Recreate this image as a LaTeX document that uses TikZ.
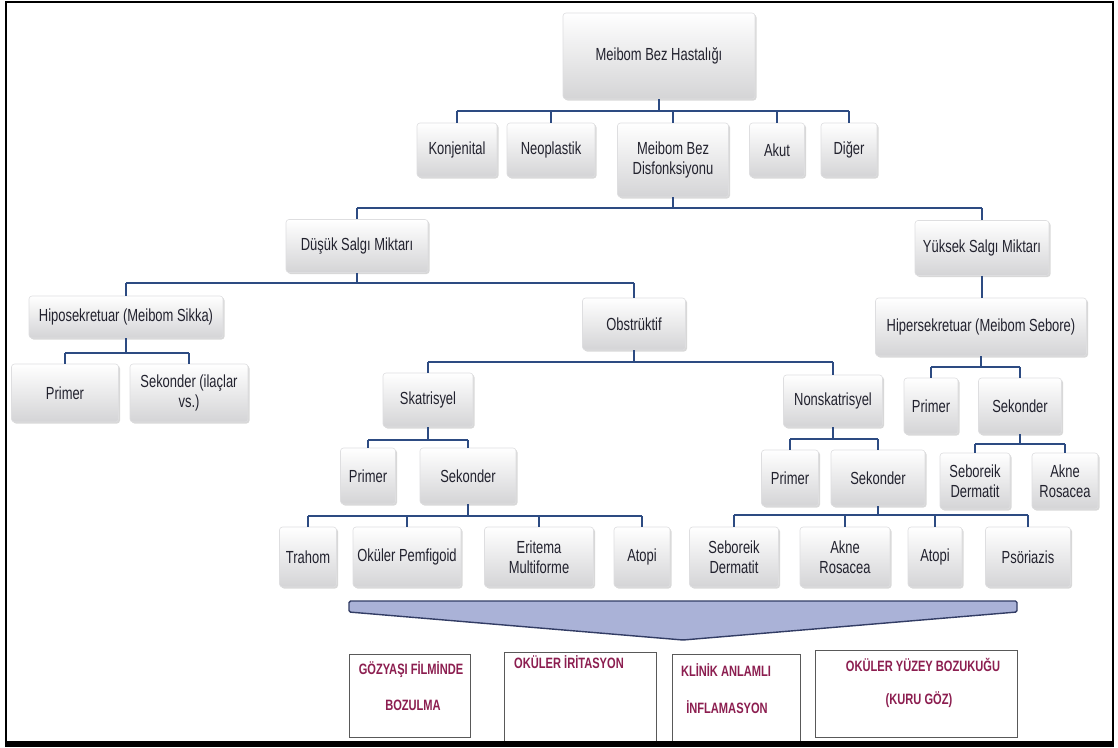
\documentclass[tikz,border=0pt]{standalone}
\usepackage{fontspec}
\setmainfont{Liberation Sans}[FakeStretch=0.74]
\usetikzlibrary{shadows}
\definecolor{connc}{RGB}{45,75,130}
\definecolor{boxbot}{RGB}{212,212,214}
\definecolor{boxedge}{RGB}{222,222,224}
\definecolor{txt}{RGB}{34,34,46}
\definecolor{maroon}{RGB}{140,30,80}
\definecolor{chevfill}{RGB}{170,178,215}
\definecolor{chevline}{RGB}{50,60,100}
\begin{document}
\begin{tikzpicture}[x=1pt,y=-1pt,
  box/.style={rounded corners=3pt, top color=white, bottom color=boxbot, draw=boxedge, line width=0.6pt,
    drop shadow={shadow xshift=1.5pt,shadow yshift=-1.5pt,opacity=0.3},
    font=\fontsize{17.5}{20.5}\selectfont, text=txt, align=center, inner sep=0pt},
  sz/.style n args={2}{minimum width=#1pt,minimum height=#2pt},
  conn/.style={draw=connc, line width=2pt},
  bbox/.style={draw=gray!70!black, line width=0.9pt, fill=white, inner sep=0pt},
  btxt/.style={font=\bfseries\fontsize{15}{17}\selectfont, text=maroon, inner sep=0pt},
  chev/.style={draw=chevline, fill=chevfill, line width=1.4pt, rounded corners=1.5pt}]
\useasboundingbox (0,0) rectangle (1118,747);
\fill[white] (0,0) rectangle (1118,747);

% bar levels
\coordinate (b1) at (0,111);
\coordinate (b2) at (0,208);
\coordinate (b3) at (0,283);
\coordinate (b4) at (0,353);
\coordinate (b5) at (0,362);
\coordinate (b6) at (0,367);
\coordinate (b7) at (0,440);
\coordinate (b8) at (0,439);
\coordinate (b9) at (0,444);
\coordinate (b10) at (0,516);
\coordinate (b11) at (0,515);

% nodes
\node[box, sz={192}{86}] (root) at (659,56) {Meibom Bez Hastalığı};

\node[box, sz={80}{54}] (konj) at (457,150) {Konjenital};
\node[box, sz={88}{54}] (neo) at (551,150) {Neoplastik};
\node[box, sz={111}{74}] (disf) at (673,160) {Meibom Bez\\Disfonksiyonu};
\node[box, sz={55}{54}] (akut) at (777,150) {Akut};
\node[box, sz={56}{54}] (diger) at (849,150) {Diğer};

\node[box, sz={142}{53}] (dusuk) at (357,246) {Düşük Salgı Miktarı};
\node[box, sz={134}{55}] (yuksek) at (982,248) {Yüksek Salgı Miktarı};

\node[box, sz={194}{42}] (hipo) at (126,317) {Hiposekretuar (Meibom Sikka)};
\node[box, sz={103}{52}] (obstr) at (634,324) {Obstrüktif};
\node[box, sz={211}{58}] (hiper) at (981,327) {Hipersekretuar (Meibom Sebore)};

\node[box, sz={107}{58}] (hprimer) at (65,393) {Primer};
\node[box, sz={118}{58}] (hsek) at (189,393) {Sekonder (ilaçlar\\vs.)};
\node[box, sz={90}{54}] (skat) at (428,400) {Skatrisyel};
\node[box, sz={99}{52}] (nonsk) at (833,401) {Nonskatrisyel};
\node[box, sz={54}{56}] (yprimer) at (931,406) {Primer};
\node[box, sz={83}{56}] (ysek) at (1020,406) {Sekonder};

\node[box, sz={55}{56}] (sprimer) at (368,476) {Primer};
\node[box, sz={96}{56}] (ssek) at (468,476) {Sekonder};
\node[box, sz={57}{56}] (nprimer) at (790,478) {Primer};
\node[box, sz={94}{56}] (nsek) at (878,478) {Sekonder};
\node[box, sz={70}{56}] (yseb) at (975,481) {Seboreik\\Dermatit};
\node[box, sz={66}{56}] (yakne) at (1065,481) {Akne\\Rosacea};

\node[box, sz={57}{60}] (trahom) at (308,557) {Trahom};
\node[box, sz={108}{60}] (pemf) at (407,557) {Oküler Pemfigoid};
\node[box, sz={109}{60}] (erit) at (539,557) {Eritema\\Multiforme};
\node[box, sz={56}{60}] (satopi) at (642,557) {Atopi};
\node[box, sz={89}{60}] (nseb) at (734,557) {Seboreik\\Dermatit};
\node[box, sz={90}{60}] (nakne) at (845,557) {Akne\\Rosacea};
\node[box, sz={54}{60}] (natopi) at (935,557) {Atopi};
\node[box, sz={85}{60}] (psor) at (1028,557) {Psöriazis};

% connectors
\draw[conn] (root.south) -- (root.south |- b1);
\draw[conn] (konj.north |- b1) -- (diger.north |- b1);
\foreach \c in {konj,neo,disf,akut,diger} \draw[conn] (\c.north |- b1) -- (\c.north);

\draw[conn] (disf.south) -- (disf.south |- b2);
\draw[conn] (dusuk.north |- b2) -- (yuksek.north |- b2);
\foreach \c in {dusuk,yuksek} \draw[conn] (\c.north |- b2) -- (\c.north);

\draw[conn] (dusuk.south) -- (dusuk.south |- b3);
\draw[conn] (hipo.north |- b3) -- (obstr.north |- b3);
\foreach \c in {hipo,obstr} \draw[conn] (\c.north |- b3) -- (\c.north);

\draw[conn] (yuksek.south) -- (hiper.north -| yuksek.south);

\draw[conn] (hipo.south) -- (hipo.south |- b4);
\draw[conn] (hprimer.north |- b4) -- (hsek.north |- b4);
\foreach \c in {hprimer,hsek} \draw[conn] (\c.north |- b4) -- (\c.north);

\draw[conn] (obstr.south) -- (obstr.south |- b5);
\draw[conn] (skat.north |- b5) -- (nonsk.north |- b5);
\foreach \c in {skat,nonsk} \draw[conn] (\c.north |- b5) -- (\c.north);

\draw[conn] (hiper.south) -- (hiper.south |- b6);
\draw[conn] (yprimer.north |- b6) -- (ysek.north |- b6);
\foreach \c in {yprimer,ysek} \draw[conn] (\c.north |- b6) -- (\c.north);

\draw[conn] (skat.south) -- (skat.south |- b7);
\draw[conn] (sprimer.north |- b7) -- (ssek.north |- b7);
\foreach \c in {sprimer,ssek} \draw[conn] (\c.north |- b7) -- (\c.north);

\draw[conn] (nonsk.south) -- (nonsk.south |- b8);
\draw[conn] (nprimer.north |- b8) -- (nsek.north |- b8);
\foreach \c in {nprimer,nsek} \draw[conn] (\c.north |- b8) -- (\c.north);

\draw[conn] (ysek.south) -- (ysek.south |- b9);
\draw[conn] (yseb.north |- b9) -- (yakne.north |- b9);
\foreach \c in {yseb,yakne} \draw[conn] (\c.north |- b9) -- (\c.north);

\draw[conn] (ssek.south) -- (ssek.south |- b10);
\draw[conn] (trahom.north |- b10) -- (satopi.north |- b10);
\foreach \c in {trahom,pemf,erit,satopi} \draw[conn] (\c.north |- b10) -- (\c.north);

\draw[conn] (nsek.south) -- (nsek.south |- b11);
\draw[conn] (nseb.north |- b11) -- (psor.north |- b11);
\foreach \c in {nseb,nakne,natopi,psor} \draw[conn] (\c.north |- b11) -- (\c.north);

% chevron
\draw[chev] (349,601) -- (1017,601) -- (1017,612) -- (683,640) -- (349,612) -- cycle;

% bottom boxes
\node[bbox, minimum width=121pt, minimum height=83pt] (r1) at (409.5,695.5) {};
\node[bbox, minimum width=152pt, minimum height=89pt] (r2) at (580,696.5) {};
\node[bbox, minimum width=128pt, minimum height=91pt] (r3) at (736,699.5) {};
\node[bbox, minimum width=202pt, minimum height=87pt] (r4) at (916,693.5) {};

\node[btxt] (r1a) at (411,670) {GÖZYAŞI FİLMİNDE};
\node[btxt] (r1b) at (413,705) {BOZULMA};
\node[btxt] (r2a) at (569,662) {OKÜLER İRİTASYON};
\node[btxt] (r3a) at (726,670) {KLİNİK ANLAMLI};
\node[btxt] (r3b) at (727,707) {İNFLAMASYON};
\node[btxt] (r4a) at (923,665) {OKÜLER YÜZEY BOZUKUĞU};
\node[btxt] (r4b) at (919,700) {(KURU GÖZ)};

% frame
\draw[line width=2pt] (6,2) rectangle (1113,742);
\fill[black] (5,741) rectangle (1114,747);
\end{tikzpicture}
\end{document}
